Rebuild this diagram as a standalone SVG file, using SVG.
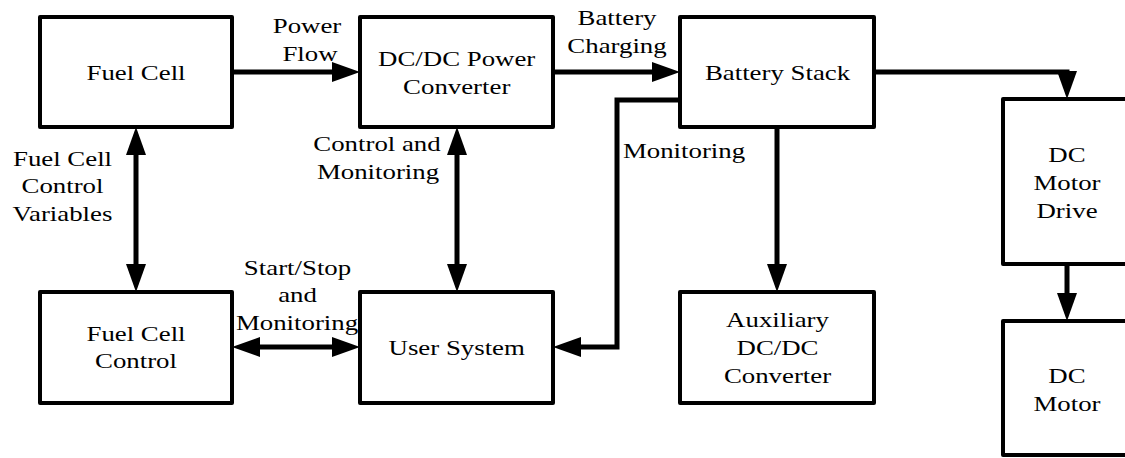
<svg xmlns="http://www.w3.org/2000/svg" width="1125" height="458" viewBox="0 0 1125 458">
<style>
.box{fill:#fff;stroke:#000;stroke-width:4;stroke-linejoin:round}
text{font-family:"Liberation Serif",serif;font-size:22px;fill:#000;text-anchor:middle}
.c{fill:none;stroke:#000;stroke-width:5}
</style>
<defs>
<marker id="ah" markerUnits="userSpaceOnUse" markerWidth="28" markerHeight="20" refX="18" refY="10" orient="auto-start-reverse" viewBox="0 0 28 20">
<path d="M0,0 L28,10 L0,20 z" fill="#000"/>
</marker>
</defs>
<rect width="1125" height="458" fill="#fff"/>
<g id="connectors">
<line class="c" x1="232" y1="72" x2="350" y2="72" marker-end="url(#ah)"/>
<line class="c" x1="553" y1="72" x2="670" y2="72" marker-end="url(#ah)"/>
<path class="c" d="M874,72 H1067 V89" marker-end="url(#ah)"/>
<path class="c" d="M680,100 H617 V347 H563" marker-end="url(#ah)"/>
<line class="c" x1="777" y1="127" x2="777" y2="282" marker-end="url(#ah)"/>
<line class="c" x1="457" y1="137" x2="457" y2="282" marker-start="url(#ah)" marker-end="url(#ah)"/>
<line class="c" x1="136" y1="137" x2="136" y2="282" marker-start="url(#ah)" marker-end="url(#ah)"/>
<line class="c" x1="242" y1="347" x2="350" y2="347" marker-start="url(#ah)" marker-end="url(#ah)"/>
<line class="c" x1="1067" y1="264" x2="1067" y2="311" marker-end="url(#ah)"/>
</g>
<g id="labels">
<text transform="translate(307 33) scale(1.22 1)">Power</text>
<text transform="translate(310 61) scale(1.22 1)">Flow</text>
<text transform="translate(617 25) scale(1.22 1)">Battery</text>
<text transform="translate(617 53) scale(1.22 1)">Charging</text>
<text transform="translate(684 158) scale(1.22 1)">Monitoring</text>
<text transform="translate(377 151) scale(1.22 1)">Control and</text>
<text transform="translate(378 179) scale(1.22 1)">Monitoring</text>
<text transform="translate(62.5 166) scale(1.22 1)">Fuel Cell</text>
<text transform="translate(62.5 193) scale(1.22 1)">Control</text>
<text transform="translate(62.5 221) scale(1.22 1)">Variables</text>
<text transform="translate(297.5 275) scale(1.22 1)">Start/Stop</text>
<text transform="translate(297.5 302) scale(1.22 1)">and</text>
<text transform="translate(297 330) scale(1.22 1)">Monitoring</text>
</g>
<g id="fuel-cell">
<rect class="box" x="40" y="17" width="192" height="110"/>
<text transform="translate(136 80) scale(1.22 1)">Fuel Cell</text>
</g>
<g id="dcdc-converter">
<rect class="box" x="360" y="17" width="193" height="110"/>
<text transform="translate(456.7 66) scale(1.22 1)">DC/DC Power</text>
<text transform="translate(456.7 94) scale(1.22 1)">Converter</text>
</g>
<g id="battery-stack">
<rect class="box" x="680" y="17" width="194" height="110"/>
<text transform="translate(777.5 80) scale(1.22 1)">Battery Stack</text>
</g>
<g id="dc-motor-drive">
<rect class="box" x="1003" y="99" width="128" height="165"/>
<text transform="translate(1067 162) scale(1.22 1)">DC</text>
<text transform="translate(1067 190) scale(1.22 1)">Motor</text>
<text transform="translate(1067 218) scale(1.22 1)">Drive</text>
</g>
<g id="fuel-cell-control">
<rect class="box" x="40" y="292" width="192" height="111"/>
<text transform="translate(136 341) scale(1.22 1)">Fuel Cell</text>
<text transform="translate(136 368) scale(1.22 1)">Control</text>
</g>
<g id="user-system">
<rect class="box" x="360" y="292" width="193" height="111"/>
<text transform="translate(456.7 355) scale(1.22 1)">User System</text>
</g>
<g id="auxiliary-converter">
<rect class="box" x="680" y="292" width="194" height="111"/>
<text transform="translate(777.5 327) scale(1.22 1)">Auxiliary</text>
<text transform="translate(777.5 355) scale(1.22 1)">DC/DC</text>
<text transform="translate(777.5 383) scale(1.22 1)">Converter</text>
</g>
<g id="dc-motor">
<rect class="box" x="1003" y="321" width="128" height="134"/>
<text transform="translate(1067 383) scale(1.22 1)">DC</text>
<text transform="translate(1067 411) scale(1.22 1)">Motor</text>
</g>
</svg>
